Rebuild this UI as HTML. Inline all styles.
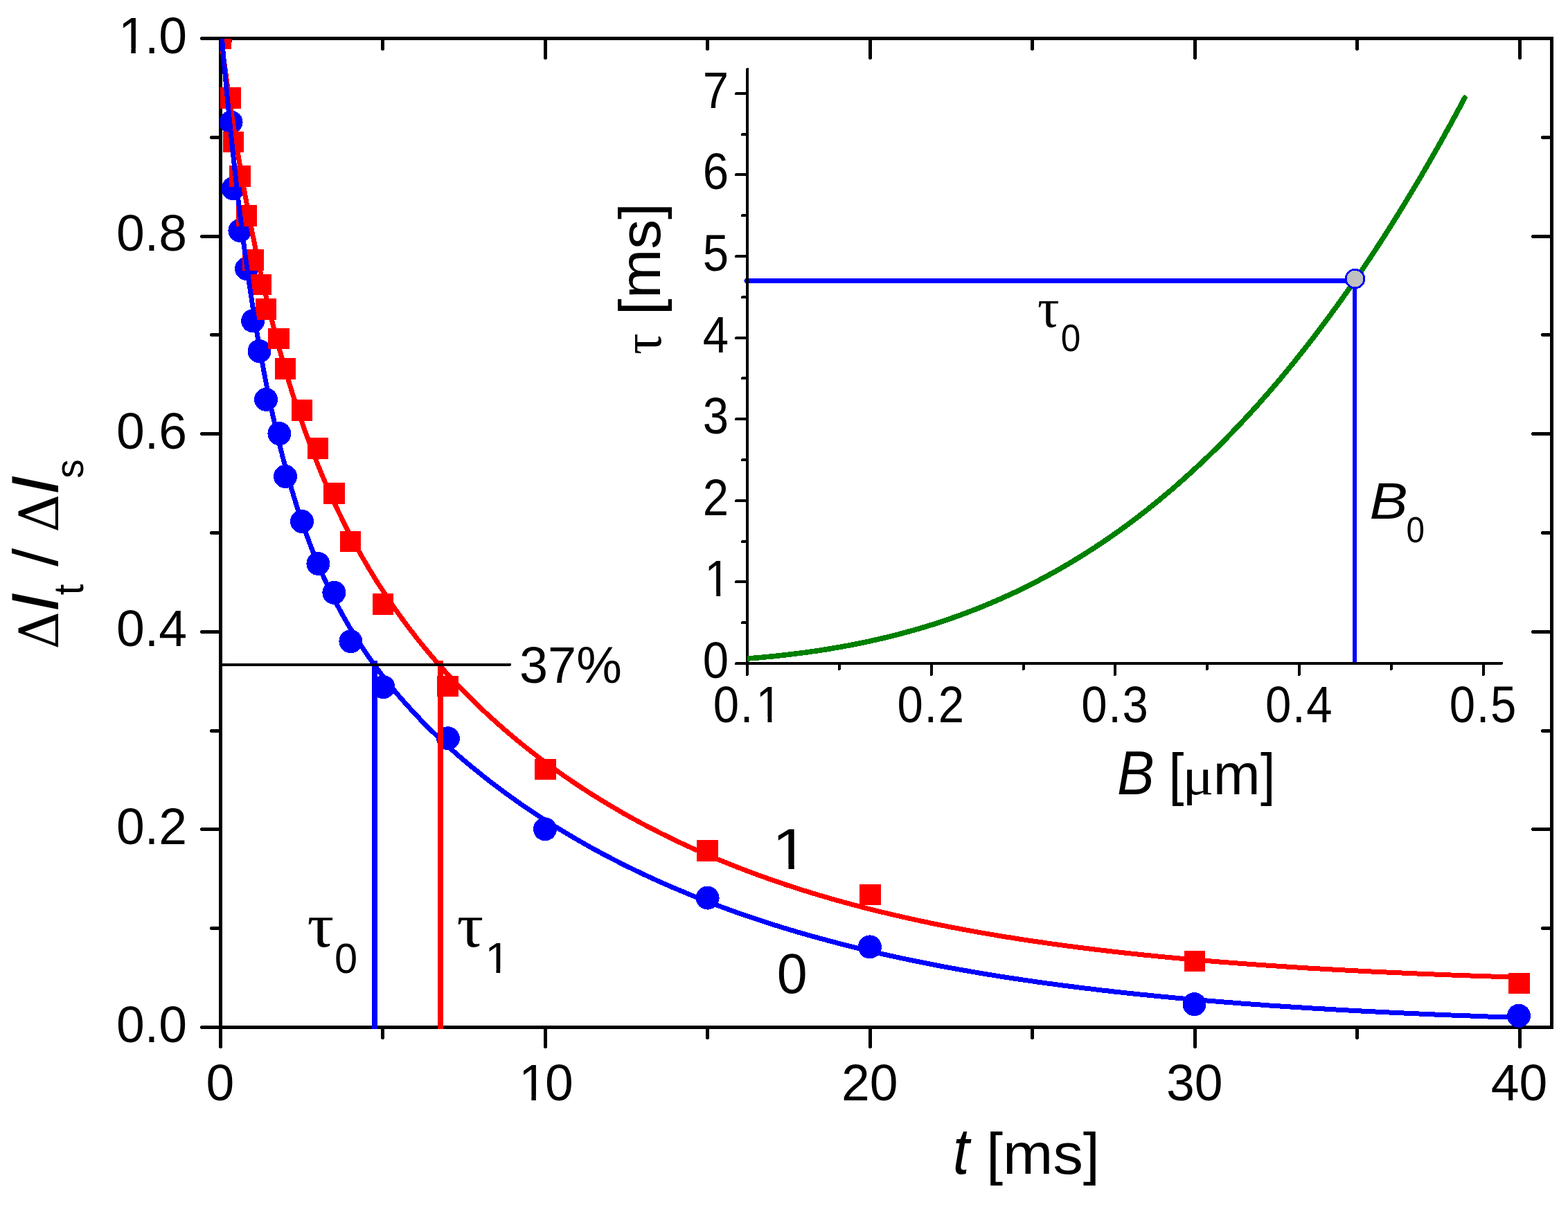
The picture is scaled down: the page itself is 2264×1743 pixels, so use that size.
<!DOCTYPE html>
<html lang="en"><head><meta charset="utf-8"><title>Relaxation curves</title>
<style>html,body{margin:0;padding:0;background:#fff;}body{width:2264px;height:1743px;overflow:hidden;}svg{display:block;}text{font-family:"Liberation Sans",sans-serif;fill:#000;}.sym{font-family:"Liberation Serif","DejaVu Serif",serif;}.dsym{font-family:"DejaVu Serif","Liberation Serif",serif;}.it{font-style:italic;}</style>
</head><body>
<svg width="2264" height="1743" viewBox="0 0 2264 1743">
<rect x="0" y="0" width="2264" height="1743" fill="#fff"/>
<defs><clipPath id="plotclip"><rect x="318" y="56" width="1923" height="1430"/></clipPath><clipPath id="insetclip"><rect x="1079" y="90" width="1100" height="870"/></clipPath></defs>
<g fill="#000" shape-rendering="crispEdges">
<rect x="316" y="53" width="5" height="1433"/>
<rect x="2238" y="53" width="5" height="1433"/>
<rect x="316" y="53" width="1927" height="5"/>
<rect x="316" y="1481" width="1927" height="5"/>
</g>
<g stroke="#000" stroke-width="5" stroke-linecap="round" fill="none" shape-rendering="crispEdges">
<path d="M318.0 1483.5H291.5"/>
<path d="M318.0 1340.5H305.5"/>
<path d="M2240.0 1340.5H2227.5"/>
<path d="M318.0 1197.5H291.5"/>
<path d="M2240.0 1197.5H2213.5"/>
<path d="M318.0 1055.5H305.5"/>
<path d="M2240.0 1055.5H2227.5"/>
<path d="M318.0 912.5H291.5"/>
<path d="M2240.0 912.5H2213.5"/>
<path d="M318.0 769.5H305.5"/>
<path d="M2240.0 769.5H2227.5"/>
<path d="M318.0 626.5H291.5"/>
<path d="M2240.0 626.5H2213.5"/>
<path d="M318.0 483.5H305.5"/>
<path d="M2240.0 483.5H2227.5"/>
<path d="M318.0 341.5H291.5"/>
<path d="M2240.0 341.5H2213.5"/>
<path d="M318.0 198.5H305.5"/>
<path d="M2240.0 198.5H2227.5"/>
<path d="M318.0 55.5H291.5"/>
<path d="M318.5 1484.0V1511.5"/>
<path d="M552.5 1484.0V1498.5"/>
<path d="M552.5 56.0V70.5"/>
<path d="M787.5 1484.0V1511.5"/>
<path d="M787.5 56.0V83.5"/>
<path d="M1021.5 1484.0V1498.5"/>
<path d="M1021.5 56.0V70.5"/>
<path d="M1256.5 1484.0V1511.5"/>
<path d="M1256.5 56.0V83.5"/>
<path d="M1490.5 1484.0V1498.5"/>
<path d="M1490.5 56.0V70.5"/>
<path d="M1725.5 1484.0V1511.5"/>
<path d="M1725.5 56.0V83.5"/>
<path d="M1959.5 1484.0V1498.5"/>
<path d="M1959.5 56.0V70.5"/>
<path d="M2194.5 1484.0V1511.5"/>
<path d="M2194.5 56.0V83.5"/>
</g>
<g clip-path="url(#plotclip)" shape-rendering="crispEdges">
<g fill="#0000ff">
<circle cx="318.5" cy="55.5" r="17.0"/>
<circle cx="333.6" cy="176.5" r="17.0"/>
<circle cx="336.6" cy="272.3" r="17.0"/>
<circle cx="346.4" cy="333.0" r="17.0"/>
<circle cx="356.0" cy="388.0" r="17.0"/>
<circle cx="365.2" cy="463.4" r="17.0"/>
<circle cx="374.5" cy="507.1" r="17.0"/>
<circle cx="384.1" cy="576.9" r="17.0"/>
<circle cx="403.4" cy="626.2" r="17.0"/>
<circle cx="412.1" cy="688.1" r="17.0"/>
<circle cx="436.0" cy="753.0" r="17.0"/>
<circle cx="459.4" cy="814.0" r="17.0"/>
<circle cx="482.4" cy="855.8" r="17.0"/>
<circle cx="506.4" cy="926.2" r="17.0"/>
<circle cx="553.5" cy="992.1" r="17.0"/>
<circle cx="646.9" cy="1066.2" r="17.0"/>
<circle cx="787.0" cy="1197.3" r="17.0"/>
<circle cx="1021.6" cy="1296.6" r="17.0"/>
<circle cx="1255.9" cy="1367.4" r="17.0"/>
<circle cx="1724.5" cy="1450.2" r="17.0"/>
<circle cx="2193.0" cy="1466.8" r="17.0"/>
</g>
<g fill="#ff0000">
<rect x="303.25" y="40.25" width="30.5" height="30.5"/>
<rect x="317.75" y="126.15" width="30.5" height="30.5"/>
<rect x="321.75" y="189.75" width="30.5" height="30.5"/>
<rect x="331.15" y="239.25" width="30.5" height="30.5"/>
<rect x="340.75" y="296.15" width="30.5" height="30.5"/>
<rect x="350.25" y="360.35" width="30.5" height="30.5"/>
<rect x="361.25" y="395.55" width="30.5" height="30.5"/>
<rect x="368.85" y="431.25" width="30.5" height="30.5"/>
<rect x="387.25" y="473.65" width="30.5" height="30.5"/>
<rect x="396.75" y="517.00" width="30.5" height="30.5"/>
<rect x="420.75" y="577.00" width="30.5" height="30.5"/>
<rect x="443.75" y="632.25" width="30.5" height="30.5"/>
<rect x="467.25" y="697.15" width="30.5" height="30.5"/>
<rect x="490.75" y="766.75" width="30.5" height="30.5"/>
<rect x="537.85" y="857.25" width="30.5" height="30.5"/>
<rect x="631.35" y="975.75" width="30.5" height="30.5"/>
<rect x="772.25" y="1095.75" width="30.5" height="30.5"/>
<rect x="1006.35" y="1213.25" width="30.5" height="30.5"/>
<rect x="1241.35" y="1276.75" width="30.5" height="30.5"/>
<rect x="1709.75" y="1372.75" width="30.5" height="30.5"/>
<rect x="2178.25" y="1404.75" width="30.5" height="30.5"/>
</g>
<path d="M318.5 51.2 L319.7 60.1 L320.9 69.0 L322.0 77.8 L323.2 86.4 L324.4 95.0 L325.6 103.5 L326.7 111.9 L327.9 120.2 L329.1 128.4 L330.3 136.5 L331.5 144.5 L332.6 152.4 L333.8 160.2 L335.0 168.0 L336.2 175.7 L337.4 183.2 L338.5 190.7 L339.7 198.2 L340.9 205.5 L342.1 212.8 L343.2 219.9 L344.4 227.0 L345.6 234.1 L346.8 241.0 L348.0 247.9 L349.1 254.7 L350.3 261.4 L351.5 268.1 L352.7 274.7 L353.8 281.2 L355.0 287.7 L356.2 294.1 L357.4 300.4 L358.6 306.6 L359.7 312.8 L360.9 319.0 L362.1 325.0 L363.3 331.0 L364.4 337.0 L365.6 342.8 L366.8 348.7 L368.0 354.4 L369.2 360.1 L370.3 365.8 L371.5 371.4 L372.7 376.9 L373.9 382.4 L375.1 387.8 L376.2 393.2 L377.4 398.5 L378.6 403.8 L379.8 409.0 L380.9 414.2 L382.1 419.3 L383.3 424.4 L384.5 429.4 L385.7 434.3 L386.8 439.3 L388.0 444.1 L389.2 449.0 L390.4 453.8 L391.5 458.5 L392.7 463.2 L393.9 467.9 L395.1 472.5 L396.3 477.0 L397.4 481.6 L398.6 486.0 L399.8 490.5 L401.0 494.9 L402.1 499.2 L403.3 503.6 L404.5 507.9 L405.7 512.1 L406.9 516.3 L408.0 520.5 L409.2 524.6 L410.4 528.7 L411.6 532.8 L412.8 536.8 L413.9 540.8 L415.1 544.8 L416.3 548.7 L417.5 552.6 L418.6 556.4 L419.8 560.2 L421.0 564.0 L422.2 567.8 L423.4 571.5 L424.5 575.2 L425.7 578.9 L426.9 582.5 L428.1 586.1 L429.2 589.7 L430.4 593.2 L431.6 596.8 L432.8 600.3 L434.0 603.7 L435.1 607.1 L436.3 610.5 L437.5 613.9 L438.7 617.3 L439.8 620.6 L441.0 623.9 L442.2 627.2 L443.4 630.4 L444.6 633.6 L445.7 636.8 L446.9 640.0 L448.1 643.2 L449.3 646.3 L450.5 649.4 L451.6 652.5 L452.8 655.5 L454.0 658.6 L455.2 661.6 L456.3 664.6 L457.5 667.5 L458.7 670.5 L459.9 673.4 L461.1 676.3 L462.2 679.2 L463.4 682.0 L464.6 684.9 L465.8 687.7 L466.9 690.5 L468.1 693.3 L469.3 696.0 L470.5 698.8 L471.7 701.5 L472.8 704.2 L474.0 706.9 L475.2 709.5 L476.4 712.2 L477.5 714.8 L478.7 717.4 L479.9 720.0 L481.1 722.6 L482.3 725.1 L483.4 727.7 L484.6 730.2 L485.8 732.7 L487.0 735.2 L488.2 737.7 L489.3 740.1 L490.5 742.6 L491.7 745.0 L492.9 747.4 L494.0 749.8 L495.2 752.2 L496.4 754.6 L497.6 756.9 L498.8 759.3 L499.9 761.6 L501.1 763.9 L502.3 766.2 L503.5 768.5 L504.6 770.7 L505.8 773.0 L507.0 775.2 L508.2 777.5 L509.4 779.7 L510.5 781.9 L511.7 784.1 L512.9 786.2 L514.1 788.4 L515.2 790.5 L516.4 792.7 L517.6 794.8 L518.8 796.9 L520.0 799.0 L521.1 801.1 L522.3 803.2 L523.5 805.3 L524.7 807.3 L525.9 809.3 L527.0 811.4 L528.2 813.4 L529.4 815.4 L530.6 817.4 L531.7 819.4 L532.9 821.4 L534.1 823.3 L535.3 825.3 L536.5 827.2 L537.6 829.2 L538.8 831.1 L540.0 833.0 L541.2 834.9 L542.3 836.8 L543.5 838.7 L544.7 840.6 L545.9 842.4 L547.1 844.3 L548.2 846.1 L549.4 848.0 L550.6 849.8 L551.8 851.6 L553.0 853.4 L558.4 861.7 L563.9 869.8 L569.4 877.8 L574.9 885.6 L580.4 893.2 L585.9 900.6 L591.4 907.9 L596.9 915.1 L602.3 922.1 L607.8 929.0 L613.3 935.7 L618.8 942.3 L624.3 948.8 L629.8 955.2 L635.3 961.5 L640.8 967.6 L646.3 973.7 L651.7 979.7 L657.2 985.5 L662.7 991.3 L668.2 996.9 L673.7 1002.5 L679.2 1008.0 L684.7 1013.4 L690.2 1018.7 L695.7 1023.9 L701.1 1029.1 L706.6 1034.1 L712.1 1039.1 L717.6 1044.1 L723.1 1048.9 L728.6 1053.7 L734.1 1058.4 L739.6 1063.1 L745.1 1067.6 L750.5 1072.2 L756.0 1076.6 L761.5 1081.0 L767.0 1085.3 L772.5 1089.6 L778.0 1093.8 L783.5 1098.0 L789.0 1102.1 L794.5 1106.1 L799.9 1110.1 L805.4 1114.0 L810.9 1117.9 L816.4 1121.7 L821.9 1125.5 L827.4 1129.3 L832.9 1132.9 L838.4 1136.6 L843.9 1140.2 L849.3 1143.7 L854.8 1147.2 L860.3 1150.6 L865.8 1154.0 L871.3 1157.4 L876.8 1160.7 L882.3 1164.0 L887.8 1167.2 L893.3 1170.4 L898.7 1173.6 L904.2 1176.7 L909.7 1179.8 L915.2 1182.8 L920.7 1185.8 L926.2 1188.8 L931.7 1191.7 L937.2 1194.6 L942.7 1197.4 L948.1 1200.2 L953.6 1203.0 L959.1 1205.7 L964.6 1208.4 L970.1 1211.1 L975.6 1213.8 L981.1 1216.4 L986.6 1218.9 L992.1 1221.5 L997.5 1224.0 L1003.0 1226.5 L1008.5 1228.9 L1014.0 1231.3 L1019.5 1233.7 L1025.0 1236.1 L1030.5 1238.4 L1036.0 1240.7 L1041.5 1243.0 L1046.9 1245.2 L1052.4 1247.4 L1057.9 1249.6 L1063.4 1251.8 L1068.9 1253.9 L1074.4 1256.0 L1079.9 1258.1 L1085.4 1260.2 L1090.9 1262.2 L1096.3 1264.2 L1101.8 1266.2 L1107.3 1268.1 L1112.8 1270.1 L1118.3 1272.0 L1123.8 1273.9 L1129.3 1275.7 L1134.8 1277.6 L1140.3 1279.4 L1145.7 1281.2 L1151.2 1282.9 L1156.7 1284.7 L1162.2 1286.4 L1167.7 1288.1 L1173.2 1289.8 L1178.7 1291.5 L1184.2 1293.1 L1189.7 1294.7 L1195.1 1296.3 L1200.6 1297.9 L1206.1 1299.5 L1211.6 1301.0 L1217.1 1302.5 L1222.6 1304.1 L1228.1 1305.5 L1233.6 1307.0 L1239.0 1308.5 L1244.5 1309.9 L1250.0 1311.3 L1255.5 1312.7 L1261.0 1314.1 L1266.5 1315.5 L1272.0 1316.8 L1277.5 1318.1 L1283.0 1319.4 L1288.4 1320.7 L1293.9 1322.0 L1299.4 1323.3 L1304.9 1324.5 L1310.4 1325.8 L1315.9 1327.0 L1321.4 1328.2 L1326.9 1329.4 L1332.4 1330.6 L1337.8 1331.7 L1343.3 1332.9 L1348.8 1334.0 L1354.3 1335.1 L1359.8 1336.2 L1365.3 1337.3 L1370.8 1338.4 L1376.3 1339.5 L1381.8 1340.5 L1387.2 1341.6 L1392.7 1342.6 L1398.2 1343.6 L1403.7 1344.6 L1409.2 1345.6 L1414.7 1346.6 L1420.2 1347.5 L1425.7 1348.5 L1431.2 1349.4 L1436.6 1350.3 L1442.1 1351.3 L1447.6 1352.2 L1453.1 1353.1 L1458.6 1353.9 L1464.1 1354.8 L1469.6 1355.7 L1475.1 1356.5 L1480.6 1357.4 L1486.0 1358.2 L1491.5 1359.0 L1497.0 1359.8 L1502.5 1360.6 L1508.0 1361.4 L1513.5 1362.2 L1519.0 1363.0 L1524.5 1363.7 L1530.0 1364.5 L1535.4 1365.2 L1540.9 1366.0 L1546.4 1366.7 L1551.9 1367.4 L1557.4 1368.1 L1562.9 1368.8 L1568.4 1369.5 L1573.9 1370.2 L1579.4 1370.9 L1584.8 1371.5 L1590.3 1372.2 L1595.8 1372.8 L1601.3 1373.5 L1606.8 1374.1 L1612.3 1374.7 L1617.8 1375.3 L1623.3 1376.0 L1628.8 1376.6 L1634.2 1377.1 L1639.7 1377.7 L1645.2 1378.3 L1650.7 1378.9 L1656.2 1379.5 L1661.7 1380.0 L1667.2 1380.6 L1672.7 1381.1 L1678.2 1381.6 L1683.6 1382.2 L1689.1 1382.7 L1694.6 1383.2 L1700.1 1383.7 L1705.6 1384.2 L1711.1 1384.7 L1716.6 1385.2 L1722.1 1385.7 L1727.6 1386.2 L1733.0 1386.7 L1738.5 1387.1 L1744.0 1387.6 L1749.5 1388.1 L1755.0 1388.5 L1760.5 1389.0 L1766.0 1389.4 L1771.5 1389.8 L1777.0 1390.3 L1782.4 1390.7 L1787.9 1391.1 L1793.4 1391.5 L1798.9 1391.9 L1804.4 1392.3 L1809.9 1392.7 L1815.4 1393.1 L1820.9 1393.5 L1826.4 1393.9 L1831.8 1394.3 L1837.3 1394.7 L1842.8 1395.0 L1848.3 1395.4 L1853.8 1395.8 L1859.3 1396.1 L1864.8 1396.5 L1870.3 1396.8 L1875.7 1397.2 L1881.2 1397.5 L1886.7 1397.9 L1892.2 1398.2 L1897.7 1398.5 L1903.2 1398.8 L1908.7 1399.2 L1914.2 1399.5 L1919.7 1399.8 L1925.1 1400.1 L1930.6 1400.4 L1936.1 1400.7 L1941.6 1401.0 L1947.1 1401.3 L1952.6 1401.6 L1958.1 1401.9 L1963.6 1402.1 L1969.1 1402.4 L1974.5 1402.7 L1980.0 1403.0 L1985.5 1403.2 L1991.0 1403.5 L1996.5 1403.8 L2002.0 1404.0 L2007.5 1404.3 L2013.0 1404.5 L2018.5 1404.8 L2023.9 1405.0 L2029.4 1405.3 L2034.9 1405.5 L2040.4 1405.7 L2045.9 1406.0 L2051.4 1406.2 L2056.9 1406.4 L2062.4 1406.7 L2067.9 1406.9 L2073.3 1407.1 L2078.8 1407.3 L2084.3 1407.5 L2089.8 1407.8 L2095.3 1408.0 L2100.8 1408.2 L2106.3 1408.4 L2111.8 1408.6 L2117.3 1408.8 L2122.7 1409.0 L2128.2 1409.2 L2133.7 1409.4 L2139.2 1409.6 L2144.7 1409.7 L2150.2 1409.9 L2155.7 1410.1 L2161.2 1410.3 L2166.7 1410.5 L2172.1 1410.6 L2177.6 1410.8 L2183.1 1411.0 L2188.6 1411.2 L2194.1 1411.3" fill="none" stroke="#ff0000" stroke-width="7.0" stroke-linejoin="round" stroke-linecap="butt"/>
<path d="M318.5 33.2 L319.7 47.1 L320.9 60.7 L322.0 74.1 L323.2 87.3 L324.4 100.3 L325.6 113.0 L326.7 125.6 L327.9 138.0 L329.1 150.1 L330.3 162.1 L331.5 173.9 L332.6 185.5 L333.8 197.0 L335.0 208.2 L336.2 219.3 L337.4 230.2 L338.5 240.9 L339.7 251.5 L340.9 261.8 L342.1 272.1 L343.2 282.2 L344.4 292.1 L345.6 301.9 L346.8 311.5 L348.0 321.0 L349.1 330.3 L350.3 339.5 L351.5 348.5 L352.7 357.4 L353.8 366.2 L355.0 374.9 L356.2 383.4 L357.4 391.8 L358.6 400.1 L359.7 408.2 L360.9 416.2 L362.1 424.1 L363.3 431.9 L364.4 439.6 L365.6 447.2 L366.8 454.6 L368.0 462.0 L369.2 469.2 L370.3 476.3 L371.5 483.4 L372.7 490.3 L373.9 497.1 L375.1 503.9 L376.2 510.5 L377.4 517.1 L378.6 523.5 L379.8 529.9 L380.9 536.1 L382.1 542.3 L383.3 548.4 L384.5 554.5 L385.7 560.4 L386.8 566.2 L388.0 572.0 L389.2 577.7 L390.4 583.3 L391.5 588.9 L392.7 594.3 L393.9 599.7 L395.1 605.1 L396.3 610.3 L397.4 615.5 L398.6 620.6 L399.8 625.7 L401.0 630.6 L402.1 635.6 L403.3 640.4 L404.5 645.2 L405.7 649.9 L406.9 654.6 L408.0 659.2 L409.2 663.8 L410.4 668.3 L411.6 672.7 L412.8 677.1 L413.9 681.4 L415.1 685.7 L416.3 689.9 L417.5 694.1 L418.6 698.2 L419.8 702.3 L421.0 706.3 L422.2 710.3 L423.4 714.2 L424.5 718.1 L425.7 721.9 L426.9 725.7 L428.1 729.4 L429.2 733.1 L430.4 736.8 L431.6 740.4 L432.8 744.0 L434.0 747.5 L435.1 751.0 L436.3 754.5 L437.5 757.9 L438.7 761.3 L439.8 764.6 L441.0 767.9 L442.2 771.2 L443.4 774.4 L444.6 777.6 L445.7 780.8 L446.9 783.9 L448.1 787.0 L449.3 790.1 L450.5 793.1 L451.6 796.1 L452.8 799.1 L454.0 802.0 L455.2 804.9 L456.3 807.8 L457.5 810.7 L458.7 813.5 L459.9 816.3 L461.1 819.1 L462.2 821.8 L463.4 824.5 L464.6 827.2 L465.8 829.9 L466.9 832.5 L468.1 835.1 L469.3 837.7 L470.5 840.2 L471.7 842.8 L472.8 845.3 L474.0 847.8 L475.2 850.3 L476.4 852.7 L477.5 855.1 L478.7 857.5 L479.9 859.9 L481.1 862.3 L482.3 864.6 L483.4 866.9 L484.6 869.2 L485.8 871.5 L487.0 873.8 L488.2 876.0 L489.3 878.2 L490.5 880.4 L491.7 882.6 L492.9 884.8 L494.0 886.9 L495.2 889.1 L496.4 891.2 L497.6 893.3 L498.8 895.4 L499.9 897.4 L501.1 899.5 L502.3 901.5 L503.5 903.5 L504.6 905.5 L505.8 907.5 L507.0 909.5 L508.2 911.4 L509.4 913.4 L510.5 915.3 L511.7 917.2 L512.9 919.1 L514.1 921.0 L515.2 922.9 L516.4 924.7 L517.6 926.6 L518.8 928.4 L520.0 930.2 L521.1 932.0 L522.3 933.8 L523.5 935.6 L524.7 937.4 L525.9 939.1 L527.0 940.9 L528.2 942.6 L529.4 944.4 L530.6 946.1 L531.7 947.8 L532.9 949.5 L534.1 951.1 L535.3 952.8 L536.5 954.5 L537.6 956.1 L538.8 957.8 L540.0 959.4 L541.2 961.0 L542.3 962.6 L543.5 964.2 L544.7 965.8 L545.9 967.4 L547.1 969.0 L548.2 970.5 L549.4 972.1 L550.6 973.6 L551.8 975.2 L553.0 976.7 L558.4 983.7 L563.9 990.5 L569.4 997.2 L574.9 1003.7 L580.4 1010.0 L585.9 1016.3 L591.4 1022.3 L596.9 1028.3 L602.3 1034.1 L607.8 1039.9 L613.3 1045.5 L618.8 1051.0 L624.3 1056.4 L629.8 1061.7 L635.3 1066.9 L640.8 1072.1 L646.3 1077.1 L651.7 1082.1 L657.2 1086.9 L662.7 1091.8 L668.2 1096.5 L673.7 1101.2 L679.2 1105.8 L684.7 1110.3 L690.2 1114.7 L695.7 1119.1 L701.1 1123.5 L706.6 1127.8 L712.1 1132.0 L717.6 1136.1 L723.1 1140.2 L728.6 1144.3 L734.1 1148.3 L739.6 1152.2 L745.1 1156.1 L750.5 1160.0 L756.0 1163.8 L761.5 1167.5 L767.0 1171.2 L772.5 1174.9 L778.0 1178.5 L783.5 1182.1 L789.0 1185.6 L794.5 1189.1 L799.9 1192.5 L805.4 1195.9 L810.9 1199.2 L816.4 1202.5 L821.9 1205.8 L827.4 1209.1 L832.9 1212.2 L838.4 1215.4 L843.9 1218.5 L849.3 1221.6 L854.8 1224.7 L860.3 1227.7 L865.8 1230.6 L871.3 1233.6 L876.8 1236.5 L882.3 1239.3 L887.8 1242.2 L893.3 1245.0 L898.7 1247.8 L904.2 1250.5 L909.7 1253.2 L915.2 1255.9 L920.7 1258.5 L926.2 1261.1 L931.7 1263.7 L937.2 1266.3 L942.7 1268.8 L948.1 1271.3 L953.6 1273.7 L959.1 1276.2 L964.6 1278.6 L970.1 1281.0 L975.6 1283.3 L981.1 1285.6 L986.6 1287.9 L992.1 1290.2 L997.5 1292.5 L1003.0 1294.7 L1008.5 1296.9 L1014.0 1299.0 L1019.5 1301.2 L1025.0 1303.3 L1030.5 1305.4 L1036.0 1307.5 L1041.5 1309.5 L1046.9 1311.5 L1052.4 1313.5 L1057.9 1315.5 L1063.4 1317.5 L1068.9 1319.4 L1074.4 1321.3 L1079.9 1323.2 L1085.4 1325.0 L1090.9 1326.9 L1096.3 1328.7 L1101.8 1330.5 L1107.3 1332.3 L1112.8 1334.1 L1118.3 1335.8 L1123.8 1337.5 L1129.3 1339.2 L1134.8 1340.9 L1140.3 1342.5 L1145.7 1344.2 L1151.2 1345.8 L1156.7 1347.4 L1162.2 1349.0 L1167.7 1350.6 L1173.2 1352.1 L1178.7 1353.6 L1184.2 1355.2 L1189.7 1356.6 L1195.1 1358.1 L1200.6 1359.6 L1206.1 1361.0 L1211.6 1362.5 L1217.1 1363.9 L1222.6 1365.3 L1228.1 1366.6 L1233.6 1368.0 L1239.0 1369.4 L1244.5 1370.7 L1250.0 1372.0 L1255.5 1373.3 L1261.0 1374.6 L1266.5 1375.9 L1272.0 1377.1 L1277.5 1378.4 L1283.0 1379.6 L1288.4 1380.8 L1293.9 1382.0 L1299.4 1383.2 L1304.9 1384.4 L1310.4 1385.5 L1315.9 1386.7 L1321.4 1387.8 L1326.9 1388.9 L1332.4 1390.0 L1337.8 1391.1 L1343.3 1392.2 L1348.8 1393.3 L1354.3 1394.3 L1359.8 1395.4 L1365.3 1396.4 L1370.8 1397.4 L1376.3 1398.4 L1381.8 1399.4 L1387.2 1400.4 L1392.7 1401.4 L1398.2 1402.3 L1403.7 1403.3 L1409.2 1404.2 L1414.7 1405.2 L1420.2 1406.1 L1425.7 1407.0 L1431.2 1407.9 L1436.6 1408.8 L1442.1 1409.7 L1447.6 1410.5 L1453.1 1411.4 L1458.6 1412.2 L1464.1 1413.1 L1469.6 1413.9 L1475.1 1414.7 L1480.6 1415.5 L1486.0 1416.3 L1491.5 1417.1 L1497.0 1417.9 L1502.5 1418.7 L1508.0 1419.4 L1513.5 1420.2 L1519.0 1420.9 L1524.5 1421.7 L1530.0 1422.4 L1535.4 1423.1 L1540.9 1423.8 L1546.4 1424.5 L1551.9 1425.2 L1557.4 1425.9 L1562.9 1426.6 L1568.4 1427.3 L1573.9 1427.9 L1579.4 1428.6 L1584.8 1429.2 L1590.3 1429.9 L1595.8 1430.5 L1601.3 1431.1 L1606.8 1431.8 L1612.3 1432.4 L1617.8 1433.0 L1623.3 1433.6 L1628.8 1434.2 L1634.2 1434.8 L1639.7 1435.3 L1645.2 1435.9 L1650.7 1436.5 L1656.2 1437.0 L1661.7 1437.6 L1667.2 1438.1 L1672.7 1438.7 L1678.2 1439.2 L1683.6 1439.7 L1689.1 1440.2 L1694.6 1440.8 L1700.1 1441.3 L1705.6 1441.8 L1711.1 1442.3 L1716.6 1442.8 L1722.1 1443.2 L1727.6 1443.7 L1733.0 1444.2 L1738.5 1444.7 L1744.0 1445.1 L1749.5 1445.6 L1755.0 1446.0 L1760.5 1446.5 L1766.0 1446.9 L1771.5 1447.4 L1777.0 1447.8 L1782.4 1448.2 L1787.9 1448.7 L1793.4 1449.1 L1798.9 1449.5 L1804.4 1449.9 L1809.9 1450.3 L1815.4 1450.7 L1820.9 1451.1 L1826.4 1451.5 L1831.8 1451.9 L1837.3 1452.3 L1842.8 1452.6 L1848.3 1453.0 L1853.8 1453.4 L1859.3 1453.7 L1864.8 1454.1 L1870.3 1454.4 L1875.7 1454.8 L1881.2 1455.1 L1886.7 1455.5 L1892.2 1455.8 L1897.7 1456.2 L1903.2 1456.5 L1908.7 1456.8 L1914.2 1457.1 L1919.7 1457.5 L1925.1 1457.8 L1930.6 1458.1 L1936.1 1458.4 L1941.6 1458.7 L1947.1 1459.0 L1952.6 1459.3 L1958.1 1459.6 L1963.6 1459.9 L1969.1 1460.2 L1974.5 1460.5 L1980.0 1460.8 L1985.5 1461.0 L1991.0 1461.3 L1996.5 1461.6 L2002.0 1461.8 L2007.5 1462.1 L2013.0 1462.4 L2018.5 1462.6 L2023.9 1462.9 L2029.4 1463.1 L2034.9 1463.4 L2040.4 1463.6 L2045.9 1463.9 L2051.4 1464.1 L2056.9 1464.4 L2062.4 1464.6 L2067.9 1464.8 L2073.3 1465.1 L2078.8 1465.3 L2084.3 1465.5 L2089.8 1465.8 L2095.3 1466.0 L2100.8 1466.2 L2106.3 1466.4 L2111.8 1466.6 L2117.3 1466.8 L2122.7 1467.0 L2128.2 1467.3 L2133.7 1467.5 L2139.2 1467.7 L2144.7 1467.9 L2150.2 1468.1 L2155.7 1468.2 L2161.2 1468.4 L2166.7 1468.6 L2172.1 1468.8 L2177.6 1469.0 L2183.1 1469.2 L2188.6 1469.4 L2194.1 1469.5" fill="none" stroke="#0000ff" stroke-width="7.0" stroke-linejoin="round" stroke-linecap="butt"/>
<rect x="632" y="954" width="8" height="532" fill="#ff0000"/>
<rect x="537" y="954" width="8" height="532" fill="#0000ff"/>
</g>
<path d="M319 960H736" stroke="#000" stroke-width="4" stroke-linecap="round" fill="none" shape-rendering="crispEdges"/>
<g shape-rendering="crispEdges">
<path d="M1078 405.5H1956" stroke="#0000ff" stroke-width="7" stroke-linecap="round" fill="none"/>
<path d="M1956 405V957" stroke="#0000ff" stroke-width="6.3" stroke-linecap="round" fill="none"/>
<g stroke="#000" stroke-width="4" stroke-linecap="round" fill="none">
<path d="M1079.0 100.0V958.0"/>
<path d="M1079.0 958.0H2168.0"/>
<path d="M1079.0 958.0H1063.0"/>
<path d="M1079.0 899.0H1072.0"/>
<path d="M1079.0 840.0H1063.0"/>
<path d="M1079.0 782.0H1072.0"/>
<path d="M1079.0 723.0H1063.0"/>
<path d="M1079.0 664.0H1072.0"/>
<path d="M1079.0 605.0H1063.0"/>
<path d="M1079.0 546.0H1072.0"/>
<path d="M1079.0 488.0H1063.0"/>
<path d="M1079.0 429.0H1072.0"/>
<path d="M1079.0 370.0H1063.0"/>
<path d="M1079.0 311.0H1072.0"/>
<path d="M1079.0 252.0H1063.0"/>
<path d="M1079.0 194.0H1072.0"/>
<path d="M1079.0 135.0H1063.0"/>
<path d="M1079.0 958.0V974.0"/>
<path d="M1212.0 958.0V966.0"/>
<path d="M1345.0 958.0V974.0"/>
<path d="M1478.0 958.0V966.0"/>
<path d="M1610.0 958.0V974.0"/>
<path d="M1743.0 958.0V966.0"/>
<path d="M1876.0 958.0V974.0"/>
<path d="M2009.0 958.0V966.0"/>
<path d="M2142.0 958.0V974.0"/>
</g>
<path d="M1073.7 951.5 L1078.9 951.1 L1084.1 950.6 L1089.4 950.2 L1094.6 949.8 L1099.8 949.3 L1105.1 948.8 L1110.3 948.3 L1115.5 947.8 L1120.8 947.2 L1126.0 946.7 L1131.2 946.1 L1136.5 945.5 L1141.7 944.9 L1146.9 944.2 L1152.2 943.6 L1157.4 942.9 L1162.6 942.2 L1167.9 941.5 L1173.1 940.7 L1178.3 940.0 L1183.6 939.2 L1188.8 938.4 L1194.0 937.6 L1199.3 936.7 L1204.5 935.8 L1209.7 934.9 L1215.0 934.0 L1220.2 933.0 L1225.4 932.1 L1230.7 931.1 L1235.9 930.0 L1241.1 929.0 L1246.3 927.9 L1251.6 926.8 L1256.8 925.7 L1262.0 924.5 L1267.3 923.3 L1272.5 922.1 L1277.7 920.9 L1283.0 919.6 L1288.2 918.3 L1293.4 917.0 L1298.7 915.6 L1303.9 914.3 L1309.1 912.8 L1314.4 911.4 L1319.6 909.9 L1324.8 908.4 L1330.1 906.9 L1335.3 905.3 L1340.5 903.7 L1345.8 902.1 L1351.0 900.4 L1356.2 898.7 L1361.5 897.0 L1366.7 895.2 L1371.9 893.4 L1377.2 891.6 L1382.4 889.7 L1387.6 887.8 L1392.8 885.9 L1398.1 883.9 L1403.3 881.9 L1408.5 879.9 L1413.8 877.8 L1419.0 875.7 L1424.2 873.5 L1429.5 871.3 L1434.7 869.1 L1439.9 866.9 L1445.2 864.6 L1450.4 862.2 L1455.6 859.8 L1460.9 857.4 L1466.1 855.0 L1471.3 852.5 L1476.6 849.9 L1481.8 847.3 L1487.0 844.7 L1492.3 842.1 L1497.5 839.4 L1502.7 836.6 L1508.0 833.8 L1513.2 831.0 L1518.4 828.1 L1523.7 825.2 L1528.9 822.3 L1534.1 819.3 L1539.4 816.2 L1544.6 813.1 L1549.8 810.0 L1555.0 806.8 L1560.3 803.6 L1565.5 800.4 L1570.7 797.0 L1576.0 793.7 L1581.2 790.3 L1586.4 786.8 L1591.7 783.3 L1596.9 779.8 L1602.1 776.2 L1607.4 772.5 L1612.6 768.9 L1617.8 765.1 L1623.1 761.3 L1628.3 757.5 L1633.5 753.6 L1638.8 749.7 L1644.0 745.7 L1649.2 741.6 L1654.5 737.6 L1659.7 733.4 L1664.9 729.2 L1670.2 725.0 L1675.4 720.7 L1680.6 716.3 L1685.9 711.9 L1691.1 707.5 L1696.3 703.0 L1701.5 698.4 L1706.8 693.8 L1712.0 689.1 L1717.2 684.4 L1722.5 679.6 L1727.7 674.8 L1732.9 669.9 L1738.2 665.0 L1743.4 660.0 L1748.6 654.9 L1753.9 649.8 L1759.1 644.6 L1764.3 639.4 L1769.6 634.1 L1774.8 628.8 L1780.0 623.4 L1785.3 617.9 L1790.5 612.4 L1795.7 606.8 L1801.0 601.2 L1806.2 595.5 L1811.4 589.7 L1816.7 583.9 L1821.9 578.0 L1827.1 572.1 L1832.4 566.0 L1837.6 560.0 L1842.8 553.9 L1848.1 547.7 L1853.3 541.4 L1858.5 535.1 L1863.7 528.7 L1869.0 522.3 L1874.2 515.7 L1879.4 509.2 L1884.7 502.5 L1889.9 495.8 L1895.1 489.1 L1900.4 482.2 L1905.6 475.3 L1910.8 468.3 L1916.1 461.3 L1921.3 454.2 L1926.5 447.0 L1931.8 439.8 L1937.0 432.5 L1942.2 425.1 L1947.5 417.7 L1952.7 410.2 L1957.9 402.6 L1963.2 394.9 L1968.4 387.2 L1973.6 379.4 L1978.9 371.6 L1984.1 363.6 L1989.3 355.6 L1994.6 347.5 L1999.8 339.4 L2005.0 331.2 L2010.2 322.9 L2015.5 314.5 L2020.7 306.1 L2025.9 297.6 L2031.2 289.0 L2036.4 280.3 L2041.6 271.6 L2046.9 262.8 L2052.1 253.9 L2057.3 244.9 L2062.6 235.9 L2067.8 226.8 L2073.0 217.6 L2078.3 208.3 L2083.5 199.0 L2088.7 189.6 L2094.0 180.1 L2099.2 170.5 L2104.4 160.9 L2109.7 151.1 L2114.9 141.3" fill="none" stroke="#008000" stroke-width="7.6" stroke-linecap="round" stroke-linejoin="round" clip-path="url(#insetclip)"/>
<circle cx="1956.5" cy="402.6" r="13.3" fill="#c0c0c0" stroke="#0000ff" stroke-width="3"/>
</g>
<text transform="translate(168.11,1504.50)" font-size="73.30">0.0</text>
<text transform="translate(168.11,1218.90)" font-size="73.30">0.2</text>
<text transform="translate(168.11,933.30)" font-size="73.30">0.4</text>
<text transform="translate(168.11,647.70)" font-size="73.30">0.6</text>
<text transform="translate(168.11,362.10)" font-size="73.30">0.8</text>
<text transform="translate(168.11,76.50)" font-size="73.30"><tspan dx="2.79">1</tspan><tspan dx="-2.79">.</tspan>0</text><rect x="174.48" y="69.42" width="14.85" height="8.68" fill="#fff"/><rect x="195.81" y="69.42" width="14.28" height="8.68" fill="#fff"/>
<text transform="translate(297.62,1589.00)" font-size="73.30">0</text>
<text transform="translate(746.15,1589.00)" font-size="73.30"><tspan dx="2.79">1</tspan><tspan dx="-2.79">0</tspan></text><rect x="752.51" y="1581.92" width="14.85" height="8.68" fill="#fff"/><rect x="773.84" y="1581.92" width="14.28" height="8.68" fill="#fff"/>
<text transform="translate(1215.05,1589.00)" font-size="73.30">20</text>
<text transform="translate(1683.95,1589.00)" font-size="73.30">30</text>
<text transform="translate(2152.85,1589.00)" font-size="73.30">40</text>
<text transform="translate(1014.80,979.00) scale(0.9160,1.0000)" font-size="73.30">0</text>
<text transform="translate(1014.80,861.40) scale(0.9160,1.0000)" font-size="73.30"><tspan dx="2.79">1</tspan></text><rect x="1020.63" y="854.32" width="13.61" height="8.68" fill="#fff"/><rect x="1040.17" y="854.32" width="13.08" height="8.68" fill="#fff"/>
<text transform="translate(1014.80,743.80) scale(0.9160,1.0000)" font-size="73.30">2</text>
<text transform="translate(1014.80,626.20) scale(0.9160,1.0000)" font-size="73.30">3</text>
<text transform="translate(1014.80,508.60) scale(0.9160,1.0000)" font-size="73.30">4</text>
<text transform="translate(1014.80,391.00) scale(0.9160,1.0000)" font-size="73.30">5</text>
<text transform="translate(1014.80,273.40) scale(0.9160,1.0000)" font-size="73.30">6</text>
<text transform="translate(1014.80,155.80) scale(0.9160,1.0000)" font-size="73.30">7</text>
<text transform="translate(1029.71,1042.50) scale(0.9160,1.0000)" font-size="73.30">0<tspan dx="1.80">.</tspan><tspan dx="4.59">1</tspan></text><rect x="1094.84" y="1035.42" width="13.61" height="8.68" fill="#fff"/><rect x="1114.38" y="1035.42" width="13.08" height="8.68" fill="#fff"/>
<text transform="translate(1295.46,1042.50) scale(0.9160,1.0000)" font-size="73.30">0<tspan dx="1.80">.</tspan><tspan dx="1.80">2</tspan></text>
<text transform="translate(1561.21,1042.50) scale(0.9160,1.0000)" font-size="73.30">0<tspan dx="1.80">.</tspan><tspan dx="1.80">3</tspan></text>
<text transform="translate(1826.96,1042.50) scale(0.9160,1.0000)" font-size="73.30">0<tspan dx="1.80">.</tspan><tspan dx="1.80">4</tspan></text>
<text transform="translate(2092.71,1042.50) scale(0.9160,1.0000)" font-size="73.30">0<tspan dx="1.80">.</tspan><tspan dx="1.80">5</tspan></text>
<text transform="translate(1375.83,1695.00) scale(0.9097,1.0000)" font-size="94.57" class="it">t</text>
<text transform="translate(1423.92,1695.00) scale(1.0427,1.0000)" font-size="83.30">[ms]</text>
<text transform="translate(1613.09,1146.70) scale(0.9120,1.0000)" font-size="88.26" class="it">B</text>
<text transform="translate(1687.20,1146.70) scale(0.9524,1.0000)" font-size="84.00">[</text>
<text transform="translate(1707.25,1146.70) scale(1.1084,1.0000)" font-size="76.09" class="sym">μ</text>
<text transform="translate(1751.71,1146.70) scale(0.9771,1.0000)" font-size="83.33">m</text>
<text transform="translate(1820.03,1146.70) scale(0.9158,1.0000)" font-size="84.00">]</text>
<text transform="translate(953.60,511.91) rotate(-90) scale(0.9464,1.0000)" font-size="80.66" class="sym">τ</text>
<text transform="translate(953.00,454.90) rotate(-90) scale(1.0283,1.0000)" font-size="83.30">[ms]</text>
<text transform="translate(84.00,937.74) rotate(-90) scale(0.9711,1.0000)" font-size="78.36" class="dsym">Δ</text>
<text transform="translate(84.00,883.95) rotate(-90) scale(1.0436,1.0000)" font-size="97.10" class="it">I</text>
<text transform="translate(120.40,859.25) rotate(-90) scale(0.9428,1.0000)" font-size="60.31">t</text>
<text transform="translate(83.20,818.00) rotate(-90) scale(1.0354,1.0000)" font-size="91.31">/</text>
<text transform="translate(84.00,768.88) rotate(-90) scale(0.9811,1.0000)" font-size="78.36" class="dsym">Δ</text>
<text transform="translate(84.00,715.09) rotate(-90) scale(1.0527,1.0000)" font-size="97.10" class="it">I</text>
<text transform="translate(120.40,690.66) rotate(-90) scale(0.9710,1.0000)" font-size="56.82">s</text>
<text transform="translate(750.05,986.30)" font-size="73.80">37%</text>
<text transform="translate(1114.85,1255.00) scale(1.1364,1.0000)" font-size="82.61">1</text><rect x="1119.43" y="1247.23" width="19.02" height="9.37" fill="#fff"/><rect x="1146.75" y="1247.23" width="18.29" height="9.37" fill="#fff"/>
<text transform="translate(1121.84,1433.60) scale(0.9764,1.0000)" font-size="80.86">0</text>
<text transform="translate(443.39,1367.10) scale(1.0614,1.0000)" font-size="90.77" class="sym">τ</text>
<text transform="translate(483.12,1405.30) scale(0.9859,1.0000)" font-size="60.43">0</text>
<text transform="translate(659.59,1367.10) scale(1.0614,1.0000)" font-size="90.77" class="sym">τ</text>
<text transform="translate(700.14,1405.00) scale(1.0414,1.0000)" font-size="62.32">1</text><rect x="703.31" y="1398.74" width="13.15" height="7.86" fill="#fff"/><rect x="722.20" y="1398.74" width="12.64" height="7.86" fill="#fff"/>
<text transform="translate(1498.03,472.30) scale(0.9819,1.0000)" font-size="80.33" class="sym">τ</text>
<text transform="translate(1531.75,507.40) scale(0.9340,1.0000)" font-size="55.00">0</text>
<text transform="translate(1977.52,748.70) scale(1.1247,1.0000)" font-size="73.48" class="it">B</text>
<text transform="translate(2030.40,783.00) scale(0.9175,1.0000)" font-size="51.86">0</text>
</svg></body></html>
